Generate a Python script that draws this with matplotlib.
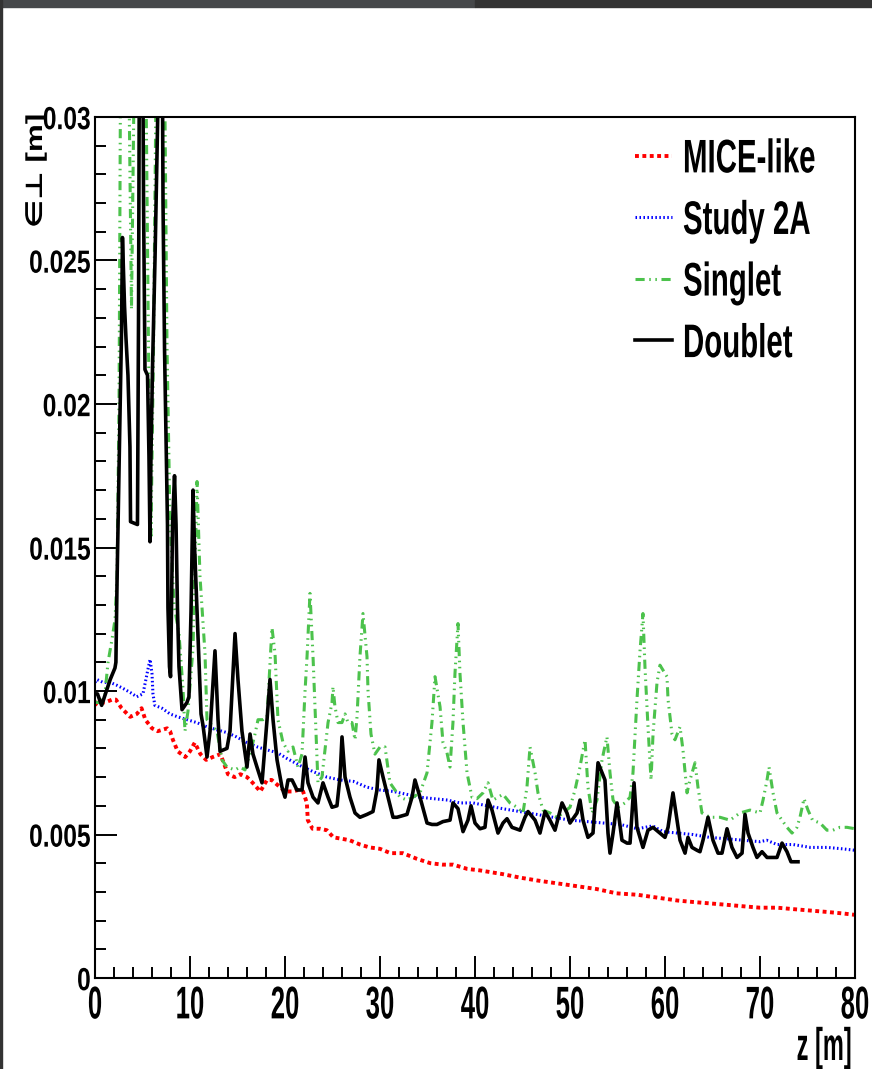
import numpy as np
import matplotlib
matplotlib.use('Agg')
from matplotlib import pyplot as plt
from matplotlib import patheffects
from matplotlib.patches import Rectangle
from matplotlib.transforms import Affine2D
from matplotlib.textpath import TextToPath
from matplotlib.ticker import MultipleLocator

# transverse emittance along the channel, values in 1e-3 m
mice_z = [0, 0.2, 1.05, 1.8, 2.2, 2.8, 3.7, 4.4, 4.9, 5.3, 6.0, 6.6, 7.6, 7.9, 8.2, 8.7, 9.5, 10.0,
          10.5, 11.1, 11.7, 12.4, 13.2, 14.0, 14.7, 15.3, 16.0, 16.6, 17.4, 18.1, 18.6, 19.3, 20.0,
          20.8, 21.4, 21.9, 22.3, 22.4, 22.9, 23.7, 24.4, 25.1, 26.0, 26.8, 27.9, 28.9, 30.0, 31.1,
          32.4, 33.9, 35.3, 36.6, 37.7, 39.2, 40.5, 42.9, 44.7, 46.5, 48.6, 50.7, 52.8, 54.9, 57.1,
          59.2, 61.3, 62.9, 64.7, 66.5, 68.2, 70.0, 71.8, 73.5, 75.3, 77.1, 78.7, 80.0]
mice_eps = [9.5, 9.6, 9.6, 9.7, 9.7, 9.4, 9.1, 9.2, 9.4, 9.0, 8.7, 8.6, 8.7, 8.6, 8.3, 7.9, 7.7, 7.9,
            8.2, 7.8, 7.6, 7.7, 7.8, 7.1, 7.0, 7.1, 7.0, 6.8, 6.5, 6.9, 6.9, 6.7, 6.5,
            6.5, 6.55, 6.5, 6.1, 5.5, 5.2, 5.2, 5.15, 4.9, 4.85, 4.8, 4.65, 4.55, 4.5, 4.35,
            4.35, 4.15, 4.0, 3.95, 3.95, 3.8, 3.75, 3.62, 3.5, 3.4, 3.3, 3.2, 3.1, 2.95, 2.9,
            2.8, 2.7, 2.65, 2.6, 2.55, 2.5, 2.45, 2.45, 2.4, 2.35, 2.3, 2.25, 2.2]

study_z = [0, 0.2, 0.85, 1.6, 2.3, 2.9, 3.7, 4.4, 5.05, 5.6, 5.8, 6.0, 6.1, 6.3, 7.05, 7.9, 8.7, 9.7,
           10.7, 11.8, 12.8, 13.9, 14.9, 16.0, 17.1, 18.1, 19.2, 20.2, 21.6, 22.9, 24.4, 25.8, 27.2,
           28.6, 30.0, 31.4, 32.8, 34.2, 35.6, 37.1, 38.4, 39.8, 41.3, 42.9, 44.7, 46.5, 48.2, 50.0,
           51.8, 53.5, 55.3, 57.1, 58.7, 59.8, 61.3, 62.9, 64.7, 66.5, 68.2, 70.0, 70.7, 71.8, 73.5,
           75.3, 77.1, 78.7, 80.0]
study_eps = [10.3, 10.4, 10.3, 10.3, 10.2, 10.1, 9.95, 9.8, 9.9, 10.8, 11.1, 10.6, 9.9, 9.5, 9.4, 9.2,
             9.1, 9.0, 8.9, 8.75, 8.65, 8.55, 8.4, 8.2, 8.05, 7.95, 7.85, 7.65, 7.4, 7.2, 7.0, 6.9,
             6.85, 6.65, 6.55, 6.5, 6.4, 6.3, 6.25, 6.2, 6.1, 6.1, 6.0, 5.9, 5.8, 5.7, 5.6, 5.5,
             5.45, 5.4, 5.35, 5.2, 5.3, 5.1, 5.05, 5.0, 4.9, 4.85, 4.8, 4.75, 4.8, 4.65, 4.65,
             4.55, 4.55, 4.5, 4.45]

singlet_z = [0, 0.53, 1.05, 1.37, 1.79, 2.11, 2.32, 2.53, 2.68, 3.16, 3.58, 3.84, 4.11, 4.74, 5.37,
             5.63, 5.89, 6.16, 6.42, 6.95, 7.37, 7.58, 7.89, 8.32, 8.84, 9.26, 9.47, 9.79, 10.32,
             10.74, 11.05, 11.58, 11.79, 12.84, 13.37, 13.89, 14.74, 15.26, 15.79, 16.32, 16.84,
             17.16, 17.68, 18.11, 18.63, 18.95, 19.26, 19.79, 20.32, 20.84, 21.37, 21.79, 21.89,
             22.11, 22.32, 22.63, 22.95, 23.16, 23.37, 23.47, 23.89, 24.21, 24.53, 24.95, 25.05,
             25.26, 25.58, 26.0, 26.32, 26.63, 27.05, 27.37, 27.58, 27.89, 28.21, 28.63, 28.74,
             29.05, 29.47, 30.0, 30.53, 31.05, 31.58, 32.11, 32.84, 33.47, 34.21, 34.95, 35.47,
             35.79, 36.32, 36.63, 37.05, 37.37, 37.68, 37.89, 38.21, 38.42, 38.74, 39.16, 39.68,
             40.21, 40.84, 41.37, 41.89, 42.95, 43.68, 44.42, 45.05, 45.47, 45.79, 46.32, 46.63,
             47.16, 47.89, 48.63, 49.26, 50.0, 50.53, 51.05, 51.58, 51.89, 52.32, 52.84, 53.37,
             53.89, 54.21, 54.53, 55.05, 55.79, 56.32, 56.63, 57.05, 57.37, 57.68, 57.89, 58.21,
             58.53, 58.74, 59.16, 59.47, 60.21, 60.32, 60.74, 61.05, 61.58, 61.89, 62.32, 62.63,
             63.16, 63.47, 63.89, 64.74, 65.79, 66.84, 67.89, 68.95, 70.0, 70.32, 70.74, 70.95,
             71.37, 71.79, 72.32, 72.84, 73.37, 73.89, 74.21, 74.63, 75.05, 75.53, 76.32, 77.05,
             77.68, 78.42, 79.16, 80.0]
singlet_eps = [9.6, 9.6, 9.9, 11.0, 11.8, 12.5, 14.0, 20.0, 31, 33, 31, 23.3, 31, 33, 31,
               22, 15.4, 22, 31, 33, 30, 22, 16, 13, 12, 10.1, 8.6, 9.3, 11.5,
               17.3, 14.0, 11.3, 9.0, 8.6, 7.6, 7.35, 7.25, 7.35, 7.25, 7.8, 8.5,
               9.0, 9.0, 9.1, 12.2, 11.3, 9.0, 8.2, 7.9, 8.05, 7.35, 7.8, 8.5,
               10.0, 11.2, 13.4, 11.2, 9.45, 7.7, 6.8, 7.0, 7.95, 8.9, 9.6, 10.15,
               9.45, 8.9, 8.9, 9.2, 8.9, 8.9, 8.3, 9.1, 11.2, 12.7, 11.2, 10.0,
               8.5, 7.8, 8.05, 8.05, 6.8, 6.55, 6.3, 6.2, 6.3, 6.45, 7.15, 8.9,
               10.5, 9.45, 8.2, 7.85, 7.35, 8.9, 10.6, 12.35, 10.6, 8.9, 7.15, 6.3,
               6.25, 6.45, 6.8, 6.2, 6.4, 6.1, 5.95, 5.75, 6.65, 8.05, 7.15, 6.45,
               5.85, 5.75, 5.6, 5.75, 5.95, 6.55, 7.35, 8.3, 6.65, 5.75, 6.2, 7.6,
               8.4, 7.15, 6.2, 5.95, 6.1, 6.3, 7.15, 9.7, 11.4, 12.7, 10.85, 8.75,
               6.9, 8.5, 10.3, 10.9, 10.5, 9.7, 8.5, 8.3, 8.75, 7.95, 6.45, 6.9,
               7.5, 6.65, 5.75, 5.6, 5.6, 5.5, 5.75, 5.85, 5.75, 6.2, 6.9, 7.35,
               6.45, 5.75, 5.5, 5.25, 5.05, 5.25, 5.6, 6.25, 5.85, 5.5, 5.4, 5.15,
               5.15, 5.25, 5.25, 5.2]

doublet_z = [0, 0.26, 0.7, 1.6, 2.1, 2.2, 2.32, 2.47, 2.63, 2.79, 2.89, 3.0, 3.11, 3.26, 3.47, 3.58,
             3.68, 3.74, 4.47, 4.58, 4.68, 5.0, 5.11, 5.26, 5.53, 5.68, 5.79, 5.89, 6.05, 6.32,
             6.63, 6.79, 7.05, 7.16, 7.32, 7.47, 7.63, 7.68, 7.84, 7.95, 8.05, 8.16, 8.37, 8.53,
             8.68, 8.84, 9.16, 9.68, 9.89, 10.11, 10.32, 10.47, 10.74, 11.16, 11.37, 11.79, 12.11,
             12.63, 12.95, 13.16, 13.89, 14.21, 14.74, 15.05, 15.47, 16.0, 16.32, 16.63, 17.05,
             17.58, 18.11, 18.42, 18.74, 19.16, 19.68, 20.0, 20.32, 20.74, 21.26, 21.79, 22.11,
             22.42, 22.95, 23.47, 24.0, 24.53, 24.95, 25.47, 25.79, 26.0, 26.32, 26.84, 27.37,
             27.89, 28.63, 29.26, 29.68, 29.89, 30.32, 30.84, 31.37, 31.79, 32.84, 33.37, 33.68,
             34.21, 34.95, 35.47, 36.0, 36.63, 37.37, 37.68, 38.21, 38.74, 39.26, 39.58, 40.0,
             40.53, 41.05, 41.37, 41.79, 42.42, 42.95, 43.37, 43.89, 44.74, 45.26, 45.58, 46.32,
             46.84, 47.37, 47.89, 48.42, 49.16, 49.68, 50.0, 50.74, 51.05, 51.37, 51.89, 52.42,
             52.95, 53.37, 53.68, 54.0, 54.21, 54.53, 54.95, 55.47, 56.0, 56.32, 56.74, 57.05,
             57.68, 58.21, 58.74, 59.47, 60.0, 60.32, 60.84, 61.26, 61.58, 62.11, 62.42, 62.84,
             63.37, 63.68, 64.0, 64.53, 65.05, 65.58, 66.0, 66.53, 67.05, 67.58, 68.11, 68.42,
             68.74, 69.26, 69.68, 70.21, 70.74, 71.37, 71.79, 72.32, 72.84, 73.26, 74.0]
doublet_eps = [9.9, 9.9, 9.5, 10.4, 10.8, 11.0, 13.8, 16.7, 19.6, 22.5, 25.8, 24.6, 23.4, 22.3, 21.0, 19.7,
               18.5, 15.9, 15.8, 22.9, 33, 34, 27, 21.2, 21.0, 18.2, 15.2, 18.2, 21.2, 25.1,
               30.5, 36, 35, 27, 21.9, 18.9, 15.8, 12.9, 10.85, 10.5, 12.8, 15.8, 17.5, 15.8,
               12.9, 10.85, 9.35, 9.6, 9.8, 12.8, 17.0, 15.1, 12.8, 9.2, 8.8, 7.7, 8.6,
               11.4, 9.0, 7.9, 8.0, 8.6, 12.0, 10.4, 8.6, 7.35, 8.5, 7.8, 7.35,
               6.8, 9.0, 10.4, 9.0, 7.6, 6.65, 6.3, 6.9, 6.9, 6.55, 6.55, 7.7,
               6.8, 6.3, 6.1, 6.8, 6.3, 5.95, 6.0, 7.0, 8.4, 7.0, 6.3, 5.75,
               5.6, 5.7, 5.8, 6.55, 7.6, 7.0, 6.3, 5.6, 5.6, 5.7, 6.3, 6.9,
               6.3, 5.4, 5.35, 5.35, 5.45, 5.5, 6.1, 5.9, 5.1, 5.5, 6.0, 5.4,
               5.2, 5.25, 6.2, 5.85, 5.05, 5.4, 5.55, 5.25, 5.15, 5.6, 5.8, 5.5,
               5.05, 5.8, 5.5, 5.15, 6.1, 5.75, 5.4, 5.75, 6.2, 5.5, 4.9, 5.05,
               7.5, 7.15, 6.9, 5.05, 4.35, 5.05, 6.1, 4.8, 4.7, 4.7, 6.8, 5.25,
               4.55, 5.15, 5.25, 5.05, 4.9, 5.25, 6.45, 5.5, 4.8, 4.35, 4.9, 4.55,
               4.45, 4.4, 4.8, 5.6, 4.8, 4.35, 4.35, 5.2, 4.55, 4.2, 4.35, 5.7,
               5.05, 4.55, 4.2, 4.4, 4.2, 4.2, 4.2, 4.7, 4.4, 4.05, 4.05]

x_ticks = [0, 10, 20, 30, 40, 50, 60, 70, 80]
y_ticks = [0, 0.005, 0.01, 0.015, 0.02, 0.025, 0.03]
y_tick_labels = ['0', '0.005', '0.01', '0.015', '0.02', '0.025', '0.03']

FONT = ['Liberation Sans Narrow', 'Liberation Sans', 'DejaVu Sans']
plt.rcParams['font.family'] = FONT
plt.rcParams['font.weight'] = 'bold'


class Stretch(patheffects.AbstractPathEffect):
    # the original picture is squeezed sideways: stretch the glyphs vertically
    # about a point `about` font sizes above the baseline
    def __init__(self, sy, about=0.0):
        super().__init__()
        self.sy = sy
        self.about = about

    def draw_path(self, renderer, gc, tpath, affine, rgbFace=None):
        m = affine.get_matrix()
        size = m[1, 1] * TextToPath.FONT_SCALE
        x0, y0 = m[0, 2], m[1, 2] + self.about * size
        st = Affine2D().translate(-x0, -y0).scale(1, self.sy).translate(x0, y0)
        renderer.draw_path(gc, tpath, affine + st, rgbFace)


fig = plt.figure(figsize=(8.72, 10.69), dpi=100)
ax = fig.add_axes([95 / 872, 91 / 1069, 760 / 872, 861 / 1069])

mm = 1e-3
ax.plot(mice_z, np.array(mice_eps) * mm, color='#ff0000', lw=2.8, ls=(0, (1, 0.9)), label='MICE-like')
ax.plot(study_z, np.array(study_eps) * mm, color='#0000ff', lw=2.2, ls=(0, (0.5, 0.8)), label='Study 2A')
ax.plot(singlet_z, np.array(singlet_eps) * mm, color='#4cc24c', lw=2.2,
        ls=(0, (3, 1.5, 0.5, 1.5, 0.5, 1.5)), label='Singlet')
ax.plot(doublet_z, np.array(doublet_eps) * mm, color='black', lw=2.6, label='Doublet')

ax.set_xlim(0, 80)
ax.set_ylim(0, 0.03)
ax.set_xticks(x_ticks)
ax.set_xticklabels([str(t) for t in x_ticks])
ax.set_yticks(y_ticks)
ax.set_yticklabels(y_tick_labels)
ax.xaxis.set_minor_locator(MultipleLocator(2))
ax.yaxis.set_minor_locator(MultipleLocator(0.001))
ax.tick_params(which='both', direction='in', width=1.4, top=False, right=False)
ax.tick_params(which='major', length=16)
ax.tick_params(which='minor', length=8)
ax.tick_params(axis='x', labelsize=18.5, pad=5)
ax.tick_params(axis='y', labelsize=17.7, pad=3)
for sp in ax.spines.values():
    sp.set_linewidth(1.5)
for lab in ax.get_xticklabels():
    lab.set_path_effects([Stretch(1.78, 0.72)])
for lab in ax.get_yticklabels():
    lab.set_path_effects([Stretch(1.3, 0.36)])

leg = ax.legend(loc='upper left', bbox_to_anchor=(0.7105, 0.9686), frameon=False, fontsize=21.2,
                handlelength=1.26, handletextpad=0.37, labelspacing=1.14, borderpad=0, borderaxespad=0)
for t in leg.get_texts():
    t.set_path_effects([Stretch(1.6, 0.36)])

# axis titles (ROOT style: right/top justified)
zl = fig.text(852 / 872, 9 / 1069, 'z [m]', ha='right', va='baseline', fontsize=17)
zl.set_path_effects([Stretch(1.94)])
el = fig.text(42 / 872, 841 / 1069, '∈⊥ [m]', rotation=90, rotation_mode='anchor',
              ha='left', va='baseline', fontsize=16.6)
el.set_path_effects([Stretch(1.36)])

# window frame from the screenshot
fig.patches.append(Rectangle((0, 1 - 7 / 1069), 475 / 872, 7 / 1069, transform=fig.transFigure,
                             color='#46484a', zorder=5))
fig.patches.append(Rectangle((475 / 872, 1 - 7 / 1069), 397 / 872, 7 / 1069, transform=fig.transFigure,
                             color='#333333', zorder=5))
fig.patches.append(Rectangle((0, 0), 2 / 872, 1, transform=fig.transFigure, color='#333333', zorder=5))

fig.savefig('out.png', dpi=100)
